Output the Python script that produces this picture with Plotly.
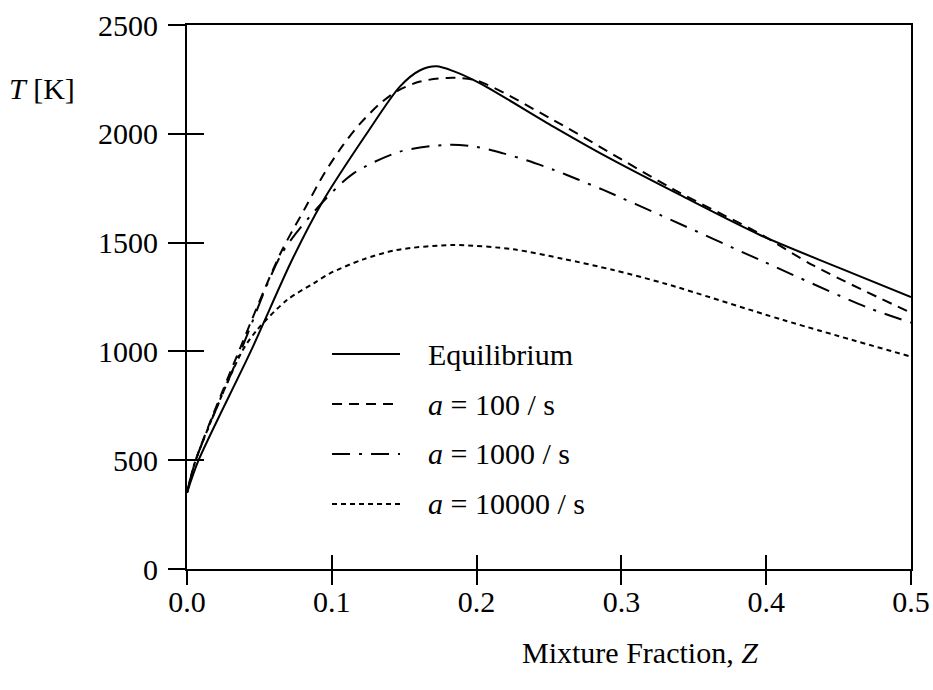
import plotly.graph_objects as go

# Mixture fraction / temperature profiles for counterflow flames
z_eq = [0.0, 0.008, 0.044, 0.0725, 0.093, 0.124, 0.147, 0.161, 0.1722, 0.184,
        0.2024, 0.253, 0.2875, 0.3405, 0.3957, 0.45, 0.5]
t_eq = [350, 500, 1000, 1420, 1681, 2000, 2217, 2292, 2310, 2288,
        2232, 2033, 1903, 1719, 1535, 1385, 1250]

z_a100 = [0.0, 0.006, 0.037, 0.0645, 0.0817, 0.095, 0.108, 0.12, 0.1335, 0.146,
          0.161, 0.18, 0.2, 0.253, 0.336, 0.3957, 0.4325, 0.5]
t_a100 = [350, 500, 1020, 1450, 1660, 1820, 1950, 2050, 2140, 2200,
          2240, 2257, 2245, 2063, 1745, 1540, 1395, 1177]

z_a1000 = [0.0, 0.006, 0.037, 0.0656, 0.093, 0.115, 0.147, 0.1816, 0.2, 0.2185,
           0.235, 0.253, 0.27, 0.2875, 0.3267, 0.3957, 0.4694, 0.5]
t_a1000 = [350, 500, 1000, 1451, 1681, 1818, 1918, 1950, 1940, 1910,
           1877, 1835, 1790, 1742, 1627, 1420, 1203, 1132]

z_a10000 = [0.0, 0.006, 0.038, 0.0483, 0.069, 0.0875, 0.0988, 0.1218, 0.1448,
            0.184, 0.2254, 0.26, 0.2944, 0.331, 0.4118, 0.5]
t_a10000 = [350, 500, 1000, 1098, 1236, 1313, 1359, 1423, 1466,
            1489, 1469, 1425, 1374, 1310, 1144, 976]

x_ticks = [0.0, 0.1, 0.2, 0.3, 0.4, 0.5]
x_ticktext = ["0.0", "0.1", "0.2", "0.3", "0.4", "0.5"]
y_ticks = [0, 500, 1000, 1500, 2000, 2500]

series_names = ["Equilibrium", "<i>a</i> = 100 / s", "<i>a</i> = 1000 / s", "<i>a</i> = 10000 / s"]
series_dash = ["solid", "10px,7px", "18px,9px,3px,9px", "5px,4px"]
series_z = [z_eq, z_a100, z_a1000, z_a10000]
series_t = [t_eq, t_a100, t_a1000, t_a10000]

FONT = "Liberation Serif"
INK = "black"

fig = go.Figure()
for zs, ts, dash, name in zip(series_z, series_t, series_dash, series_names):
    fig.add_trace(go.Scatter(
        x=zs, y=ts, mode="lines", name=name,
        line=dict(color=INK, width=2, dash=dash, shape="spline", smoothing=0.8),
        showlegend=False, hoverinfo="skip",
    ))

# empty trace so the inner tick axes get drawn
fig.add_trace(go.Scatter(x=[None], y=[None], xaxis="x2", yaxis="y2",
                         showlegend=False, hoverinfo="skip"))

# hand-drawn legend: sample line + label for each series
row_y = [0.3952, 0.3033, 0.2114, 0.1195]
for ry, dash, name in zip(row_y, series_dash, series_names):
    fig.add_shape(type="line", xref="paper", yref="paper",
                  x0=0.2003, x1=0.2942, y0=ry, y1=ry,
                  line=dict(color=INK, width=2, dash=dash))
    fig.add_annotation(xref="paper", yref="paper", x=0.3300, y=ry,
                       xanchor="left", yanchor="middle", showarrow=False,
                       text=name, font=dict(family=FONT, size=30, color=INK))

fig.add_annotation(xref="paper", yref="paper", x=-0.249, y=0.884,
                   xanchor="left", yanchor="middle", showarrow=False,
                   text="<i>T</i> [K]", font=dict(family=FONT, size=30, color=INK))
fig.add_annotation(xref="paper", yref="paper", x=0.6257, y=-0.1544,
                   xanchor="center", yanchor="middle", showarrow=False,
                   text="Mixture Fraction, <i>Z</i>",
                   font=dict(family=FONT, size=30, color=INK))

axis_common = dict(showgrid=False, zeroline=False, tickcolor=INK, tickwidth=2,
                   automargin=False,
                   tickfont=dict(family=FONT, size=30, color=INK))

fig.update_layout(
    width=933, height=690,
    margin=dict(l=187, r=22, t=25, b=121, autoexpand=False),
    paper_bgcolor="white", plot_bgcolor="white",
    # labelled axes carry the outer half of each tick
    xaxis=dict(range=[0, 0.5], tickvals=x_ticks, ticktext=x_ticktext,
               ticks="outside", ticklen=14, ticklabelstandoff=-9,
               showline=True, linewidth=2, linecolor=INK, mirror=True,
               **axis_common),
    yaxis=dict(range=[0, 2500], tickvals=y_ticks, ticks="outside", ticklen=17,
               ticklabelstandoff=4,
               showline=True, linewidth=2, linecolor=INK, mirror=True,
               **axis_common),
    # overlay axes carry the inner half, so ticks cross the frame
    xaxis2=dict(range=[0, 0.5], overlaying="x", anchor="y2", side="bottom",
                tickvals=x_ticks, ticks="inside", ticklen=14,
                showticklabels=False, showline=False, **axis_common),
    yaxis2=dict(range=[0, 2500], overlaying="y", anchor="x2", side="left",
                tickvals=y_ticks, ticks="inside", ticklen=17,
                showticklabels=False, showline=False, **axis_common),
)

fig.write_html("out.html")
